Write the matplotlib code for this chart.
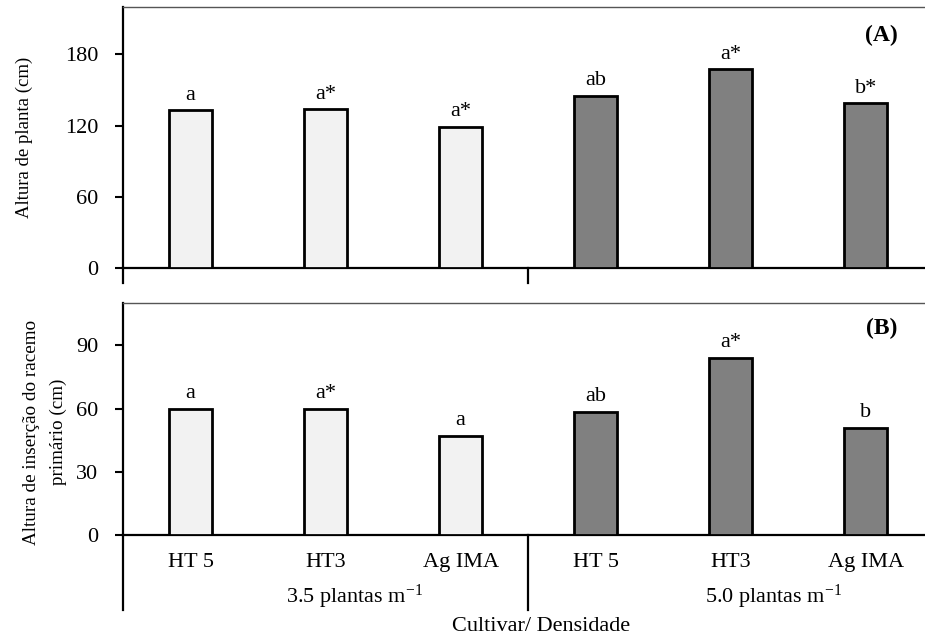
import matplotlib
matplotlib.use('Agg')
from matplotlib import pyplot as plt
from matplotlib.lines import Line2D

plt.rcParams['font.family'] = ['Liberation Serif', 'DejaVu Serif']
plt.rcParams['mathtext.fontset'] = 'custom'
plt.rcParams['mathtext.rm'] = 'Liberation Serif'
plt.rcParams['mathtext.it'] = 'Liberation Serif:italic'

# data
cultivars = ['HT 5', 'HT3', 'Ag IMA', 'HT 5', 'HT3', 'Ag IMA']
groups = ['3.5 plantas m$^{-1}$', '5.0 plantas m$^{-1}$']
altura_planta = [133, 134, 119, 145, 167.5, 139]
letras_planta = ['a', 'a*', 'a*', 'ab', 'a*', 'b*']
altura_racemo = [60, 60, 47, 58.5, 84, 51]
letras_racemo = ['a', 'a*', 'a', 'ab', 'a*', 'b']
bar_colors = ['#f2f2f2'] * 3 + ['#808080'] * 3

FS = 16

fig = plt.figure(figsize=(9.25, 6.37), dpi=100)
ax_1 = fig.add_axes([0.133, 0.579, 0.876, 0.410])
ax_2 = fig.add_axes([0.133, 0.160, 0.876, 0.364])

x = list(range(len(cultivars)))


def draw_panel(ax, values, letters, ymax, yticks, tag, drop_px):
    ax.bar(x, values, width=0.32, color=bar_colors, edgecolor='black', linewidth=2.0, zorder=3)
    for xi, v, lt in zip(x, values, letters):
        ax.annotate(lt, (xi, v), xytext=(0, 4), textcoords='offset points',
                    ha='center', va='bottom', fontsize=FS)
    ax.set_xlim(-0.5, 5.5)
    ax.set_ylim(0, ymax)
    ax.set_yticks(yticks)
    ax.tick_params(axis='y', direction='out', length=5.8, width=1.5, labelsize=FS, pad=12)
    ax.spines['right'].set_visible(False)
    ax.spines['top'].set_color('#555555')
    ax.spines['top'].set_linewidth(1.0)
    ax.spines['left'].set_linewidth(1.6)
    ax.spines['bottom'].set_linewidth(1.6)
    ax.text(0.936, 0.89, tag, transform=ax.transAxes, ha='center', va='center',
            fontsize=17, fontweight='bold')
    # long category-axis lines below zero
    dy = drop_px / ax.bbox.height
    trans = ax.get_xaxis_transform()
    ax.add_line(Line2D([-0.5, -0.5], [0, -dy], transform=trans, color='black',
                       linewidth=1.6, clip_on=False))
    ax.add_line(Line2D([2.5, 2.5], [0, -dy], transform=trans, color='black',
                       linewidth=1.6, clip_on=False))


draw_panel(ax_1, altura_planta, letras_planta, 220, [0, 60, 120, 180], '(A)', 15)
draw_panel(ax_2, altura_racemo, letras_racemo, 110, [0, 30, 60, 90], '(B)', 75)

ax_1.set_xticks([])
ax_2.set_xticks(x)
ax_2.set_xticklabels(cultivars, fontsize=FS)
ax_2.tick_params(axis='x', length=0, pad=13)

ax_1.set_ylabel('Altura de planta (cm)', fontsize=13.5)
ax_1.yaxis.set_label_coords(-0.111, 0.5)
ax_2.set_ylabel('Altura de inserção do racemo\nprimário (cm)', fontsize=13.8, linespacing=1.75)
ax_2.yaxis.set_label_coords(-0.069, 0.444)

gtrans = ax_2.get_xaxis_transform()
ax_2.text(1.215, -0.265, groups[0], transform=gtrans, ha='center', va='center', fontsize=FS)
ax_2.text(4.32, -0.265, groups[1], transform=gtrans, ha='center', va='center', fontsize=FS)
fig.text(0.585, 0.016, 'Cultivar/ Densidade', ha='center', va='center', fontsize=FS)

fig.savefig('out.png', dpi=100)
